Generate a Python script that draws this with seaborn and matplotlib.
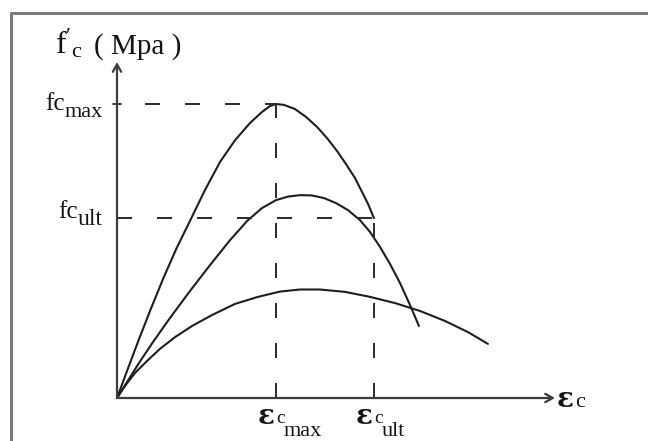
import numpy as np
import pandas as pd
import matplotlib
matplotlib.use("Agg")
import matplotlib.pyplot as plt
from matplotlib.lines import Line2D
import seaborn as sns

# ---- data (normalised: strain / eps_cmax, stress / fc_max) ----
eps_cmax = 1.0
eps_cult = 1.616
fc_max = 1.0
fc_ult = 0.612

tall_x = [0, 0.070, 0.141, 0.215, 0.292, 0.375, 0.465, 0.553, 0.648, 0.744, 0.836, 0.912,
          0.962, 1.0, 1.050, 1.119, 1.189, 1.258, 1.321, 1.384, 1.440, 1.497, 1.541, 1.579, 1.616]
tall_y = [0, 0.102, 0.204, 0.306, 0.408, 0.510, 0.609, 0.707, 0.803, 0.878, 0.935, 0.973,
          0.993, 1.0, 0.997, 0.983, 0.956, 0.922, 0.884, 0.840, 0.796, 0.748, 0.701, 0.660, 0.612]

mid_x = [0, 0.063, 0.138, 0.226, 0.333, 0.459, 0.585, 0.711, 0.818, 0.912, 1.0, 1.075, 1.151,
         1.226, 1.302, 1.377, 1.453, 1.528, 1.591, 1.654, 1.717, 1.780, 1.843, 1.899]
mid_y = [0, 0.054, 0.119, 0.190, 0.272, 0.364, 0.452, 0.537, 0.602, 0.646, 0.673, 0.685, 0.690,
         0.689, 0.680, 0.663, 0.639, 0.605, 0.565, 0.514, 0.456, 0.391, 0.316, 0.245]

low_x = [0, 0.050, 0.113, 0.189, 0.270, 0.365, 0.472, 0.597, 0.742, 0.887, 1.025, 1.151, 1.277,
         1.434, 1.591, 1.748, 1.906, 2.063, 2.208, 2.333]
low_y = [0, 0.041, 0.085, 0.126, 0.167, 0.207, 0.245, 0.282, 0.320, 0.344, 0.362, 0.369, 0.369,
         0.361, 0.344, 0.323, 0.296, 0.262, 0.224, 0.184]

curve_names = ["high", "medium", "low"]

rows = []
for name, xs, ys in zip(curve_names, [tall_x, mid_x, low_x], [tall_y, mid_y, low_y]):
    for a, b in zip(xs, ys):
        rows.append({"curve": name, "strain": a, "stress": b})
df = pd.DataFrame(rows)

# ---- style ----
sns.set_theme(style="white")
plt.rcParams["font.family"] = ["Liberation Serif", "DejaVu Serif"]
plt.rcParams["mathtext.fontset"] = "custom"
plt.rcParams["mathtext.rm"] = "Liberation Serif"
plt.rcParams["mathtext.it"] = "Liberation Serif:italic"
plt.rcParams["mathtext.bf"] = "Liberation Serif:bold"
plt.rcParams["lines.scale_dashes"] = False

W, H, DPI = 648, 441, 100
fig = plt.figure(figsize=(W / DPI, H / DPI), dpi=DPI)
fig.patch.set_facecolor("white")
ax = fig.add_axes([0, 0, 1, 1])

# pixel mapping: origin at (117, 398), eps_cmax at px 276, fc_max at px 104
ox, oy, sx, sy = 117, 398, 159, 294
ax.set_xlim(-ox / sx, (W - ox) / sx)
ax.set_ylim(-(H - oy) / sy, oy / sy)
ax.axis("off")


def P(px, py):
    return (px - ox) / sx, (oy - py) / sy


sns.lineplot(data=df, x="strain", y="stress", hue="curve", sort=False, estimator=None,
             palette=["#1e1e1e"] * 3, linewidth=1.5, legend=False, ax=ax)

axis_col = "#3c3c3c"
x_end = P(555, 0)[0]
y_end = P(0, 62)[1]
for xy in [(x_end, 0), (0, y_end)]:
    ax.annotate("", xy=xy, xytext=(0, 0),
                arrowprops=dict(arrowstyle="->,head_length=0.45,head_width=0.25", color=axis_col,
                                lw=1.6, shrinkA=0, shrinkB=0))

on, off = 10.8, 18.0
dcol = "#2a2a2a"
ax.plot([0, eps_cmax], [fc_max, fc_max], color=dcol, lw=1.4, linestyle=(8.6, (on, off)))
ax.plot([eps_cmax, eps_cmax], [0, fc_max], color=dcol, lw=1.4, linestyle=(0, (on, off)))
ax.plot([0, eps_cult], [fc_ult, fc_ult], color=dcol, lw=1.4, linestyle=(0, (on, off)))
ax.plot([eps_cult, eps_cult], [0, fc_ult], color=dcol, lw=1.4, linestyle=(0, (on, off)))

# small tick at fc_max
tk = 4 / sx
ax.plot([-tk, tk], [fc_max, fc_max], color=axis_col, lw=1.4)

txt_col = "#141414"


def T(px, py, s, size, family=None, weight="normal"):
    x, y = P(px, py)
    kw = {}
    if family:
        kw["family"] = family
    ax.text(x, y, s, fontsize=size, color=txt_col, ha="left", va="baseline",
            fontweight=weight, **kw)


# y-axis title
T(55, 54, r"$\mathrm{f}'_{\mathrm{c}}$", 23)
T(94, 54, "( Mpa )", 21)
# y labels
T(45, 110, "fc", 18)
T(65, 117, "max", 16)
T(58, 218, "fc", 18)
T(78, 225, "ult", 17)
# x labels
eps_font = ["DejaVu Serif"]
T(258, 424, "ε", 20, eps_font, "bold")
T(276, 423, "c", 14)
T(284, 436, "max", 16)
T(356, 424, "ε", 20, eps_font, "bold")
T(374, 423, "c", 14)
T(382, 436, "ult", 16)
T(557, 407, "ε", 20, eps_font, "bold")
T(575, 407, "c", 16)

# frame (left and top edges visible)
bcol = "#7a7a7a"
fig.add_artist(Line2D([10.5 / W, 10.5 / W], [0, 1 - 12.5 / H], color=bcol, lw=2.2,
                      transform=fig.transFigure))
fig.add_artist(Line2D([10.5 / W, 1], [1 - 12.5 / H, 1 - 12.5 / H], color=bcol, lw=2.2,
                      transform=fig.transFigure))

fig.savefig("out.png", dpi=DPI, facecolor="white")
